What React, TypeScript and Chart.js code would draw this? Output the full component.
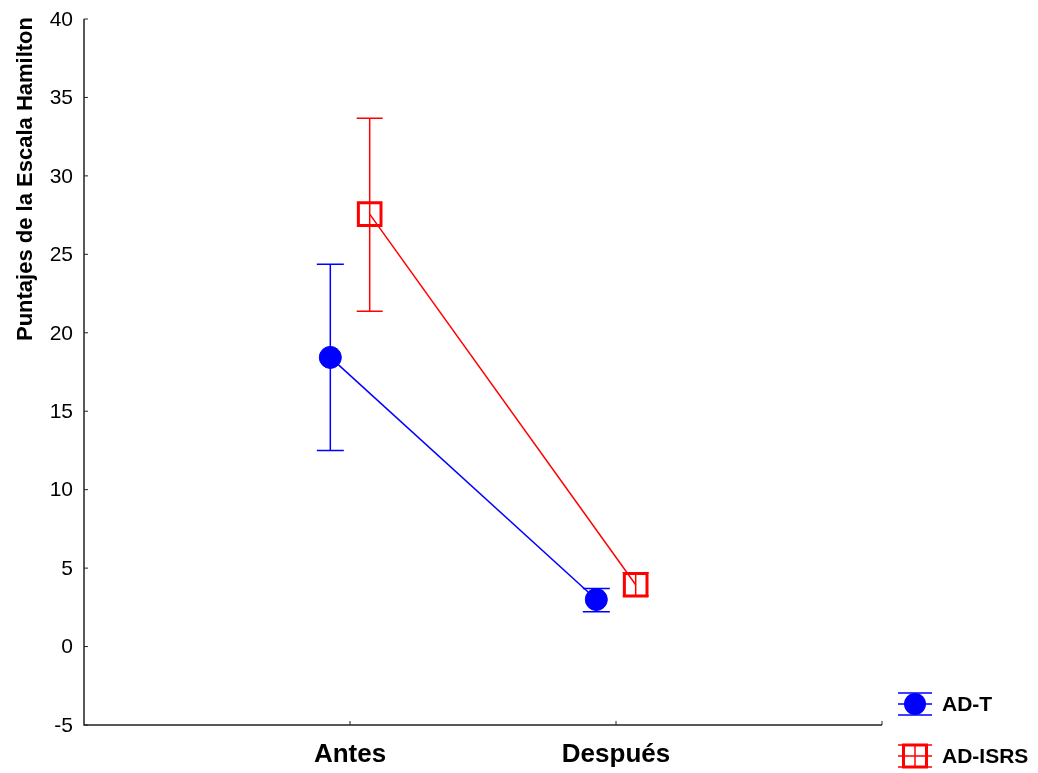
import React, { useEffect, useRef } from "react";
import { Chart, registerables } from "chart.js";

Chart.register(...registerables);

const categories = ["Antes", "Después"];
const seriesNames = ["AD-T", "AD-ISRS"];
const adT = [18.43, 3.0];
const adTLow = [12.5, 2.22];
const adTHigh = [24.36, 3.7];
const adIsrs = [27.56, 3.94];
const adIsrsLow = [21.37, 3.24];
const adIsrsHigh = [33.68, 4.7];
const yTicks = [-5, 0, 5, 10, 15, 20, 25, 30, 35, 40];
const yTitle = "Puntajes de la Escala Hamilton";

const BLUE = "#0000FF";
const RED = "#FF0000";
const AXIS = "#222222";
const OFFSET = 0.074;

const customPlugin = {
  id: "custom",
  beforeDatasetsDraw(chart: any) {
    const ctx = chart.ctx;
    const ys = chart.scales.y;
    const xs = chart.scales.x;
    chart.data.datasets.forEach((ds: any) => {
      ctx.save();
      ctx.strokeStyle = ds.borderColor;
      ctx.lineWidth = 1.5;
      ds.data.forEach((p: any, i: number) => {
        const x = xs.getPixelForValue(p.x);
        const yl = ys.getPixelForValue(ds.low[i]);
        const yh = ys.getPixelForValue(ds.high[i]);
        const hw = ds.capHalf;
        ctx.beginPath();
        ctx.moveTo(x, yl);
        ctx.lineTo(x, yh);
        ctx.moveTo(x - hw, yl);
        ctx.lineTo(x + hw, yl);
        ctx.moveTo(x - hw, yh);
        ctx.lineTo(x + hw, yh);
        ctx.stroke();
      });
      ctx.restore();
    });
  },
  afterDraw(chart: any) {
    const ctx = chart.ctx;
    const ca = chart.chartArea;
    const ys = chart.scales.y;
    const xs = chart.scales.x;
    ctx.save();
    // axes
    ctx.strokeStyle = AXIS;
    ctx.lineWidth = 1.5;
    ctx.beginPath();
    ctx.moveTo(ca.left, ca.top);
    ctx.lineTo(ca.left, ca.bottom);
    ctx.lineTo(ca.right, ca.bottom);
    ctx.stroke();
    ctx.lineWidth = 1;
    // y ticks
    ctx.fillStyle = "#000";
    ctx.font = "21px 'Liberation Sans', Arial, sans-serif";
    ctx.textAlign = "right";
    ctx.textBaseline = "middle";
    yTicks.forEach((t) => {
      const y = ys.getPixelForValue(t);
      ctx.beginPath();
      ctx.moveTo(ca.left, y);
      ctx.lineTo(ca.left + 4, y);
      ctx.stroke();
      ctx.fillText(String(t), ca.left - 11, y + 1);
    });
    // x ticks
    ctx.font = "bold 26px 'Liberation Sans', Arial, sans-serif";
    ctx.textAlign = "center";
    ctx.textBaseline = "alphabetic";
    categories.forEach((c, i) => {
      const x = xs.getPixelForValue(i + 1);
      ctx.beginPath();
      ctx.moveTo(x, ca.bottom);
      ctx.lineTo(x, ca.bottom - 4);
      ctx.stroke();
      ctx.fillText(c, x, ca.bottom + 37);
    });
    ctx.beginPath();
    ctx.moveTo(ca.right, ca.bottom);
    ctx.lineTo(ca.right, ca.bottom - 4);
    ctx.stroke();
    // y title
    ctx.save();
    ctx.font = "bold 22px 'Liberation Sans', Arial, sans-serif";
    ctx.translate(ca.left - 52, ca.top - 2);
    ctx.rotate(-Math.PI / 2);
    ctx.textAlign = "right";
    ctx.textBaseline = "alphabetic";
    ctx.fillText(yTitle, 0, 0);
    ctx.restore();
    // legend
    const lx = ca.right + 33;
    const ly1 = ca.bottom - 21;
    const ly2 = ca.bottom + 31;
    ctx.lineWidth = 1.5;
    // blue
    ctx.strokeStyle = BLUE;
    ctx.fillStyle = BLUE;
    ctx.beginPath();
    [-11, 0, 11].forEach((d) => {
      ctx.moveTo(lx - 17, ly1 + d);
      ctx.lineTo(lx + 17, ly1 + d);
    });
    ctx.stroke();
    ctx.beginPath();
    ctx.arc(lx, ly1, 11, 0, Math.PI * 2);
    ctx.fill();
    // red
    ctx.strokeStyle = RED;
    ctx.beginPath();
    [-11, 0, 11].forEach((d) => {
      ctx.moveTo(lx - 17, ly2 + d);
      ctx.lineTo(lx + 17, ly2 + d);
    });
    ctx.moveTo(lx, ly2 - 11);
    ctx.lineTo(lx, ly2 + 11);
    ctx.stroke();
    ctx.lineWidth = 3;
    ctx.strokeRect(lx - 11.5, ly2 - 11, 23, 22);
    // legend text
    ctx.fillStyle = "#000";
    ctx.font = "bold 21px 'Liberation Sans', Arial, sans-serif";
    ctx.textAlign = "left";
    ctx.textBaseline = "middle";
    ctx.fillText(seriesNames[0], lx + 27, ly1 + 1);
    ctx.fillText(seriesNames[1], lx + 27, ly2 + 1);
    ctx.restore();
  },
};

export default function App() {
  const ref = useRef<HTMLCanvasElement>(null);
  useEffect(() => {
    if (!ref.current) return;
    const chart = new Chart(ref.current, {
      type: "line",
      data: {
        datasets: [
          {
            label: seriesNames[0],
            data: adT.map((v, i) => ({ x: i + 1 - OFFSET, y: v })),
            low: adTLow,
            high: adTHigh,
            capHalf: 13.5,
            borderColor: BLUE,
            backgroundColor: BLUE,
            borderWidth: 1.5,
            pointStyle: "circle",
            pointRadius: 11,
            pointBorderWidth: 1,
            pointBackgroundColor: BLUE,
            pointBorderColor: BLUE,
            clip: false,
          } as any,
          {
            label: seriesNames[1],
            data: adIsrs.map((v, i) => ({ x: i + 1 + OFFSET, y: v })),
            low: adIsrsLow,
            high: adIsrsHigh,
            capHalf: 13,
            borderColor: RED,
            backgroundColor: "rgba(0,0,0,0)",
            borderWidth: 1.5,
            pointStyle: "rect",
            pointRadius: 16,
            pointBorderWidth: 3,
            pointBackgroundColor: "rgba(0,0,0,0)",
            pointBorderColor: RED,
            clip: false,
          } as any,
        ],
      },
      options: {
        animation: false,
        responsive: false,
        devicePixelRatio: 1,
        layout: { padding: { left: 84, top: 19, right: 156, bottom: 48 } },
        plugins: { legend: { display: false }, tooltip: { enabled: false } },
        scales: {
          x: { type: "linear", min: 0, max: 3, display: false },
          y: { type: "linear", min: -5, max: 40, display: false },
        },
      },
      plugins: [customPlugin],
    });
    return () => chart.destroy();
  }, []);
  return (
    <div style={{ position: "absolute", left: 0, top: 0, width: 1038, height: 773, background: "#fff" }}>
      <canvas ref={ref} width={1038} height={773} />
    </div>
  );
}
